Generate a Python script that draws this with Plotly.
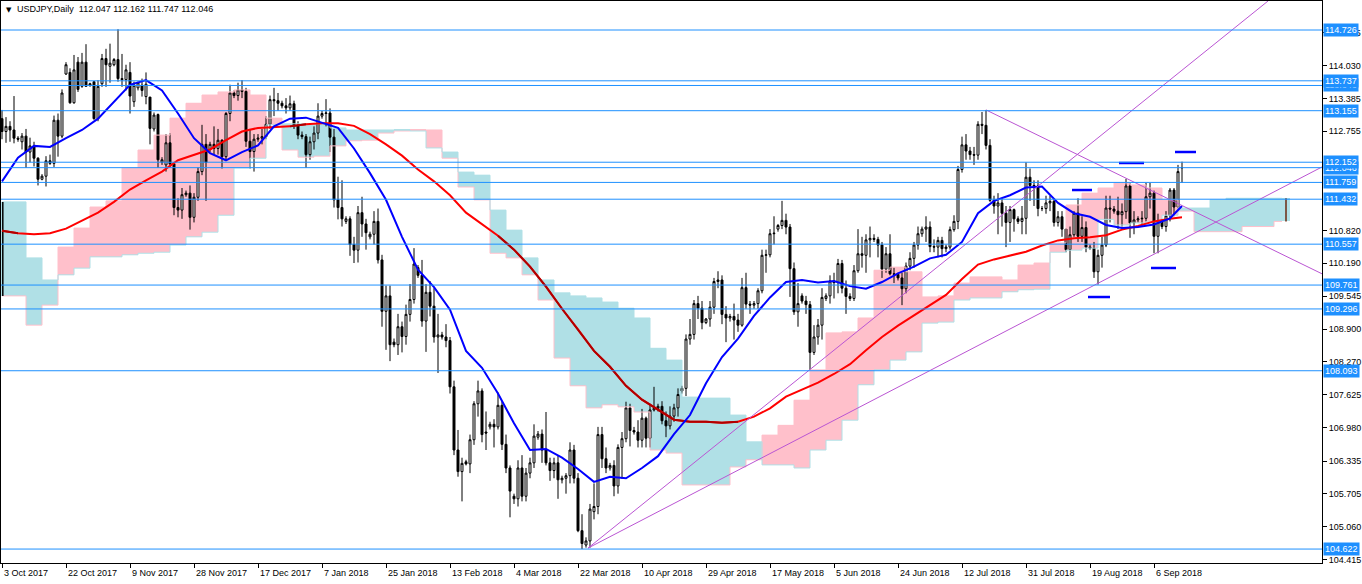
import plotly.graph_objects as go

# ---------------- data ----------------
date_labels = ["3 Oct 2017", "22 Oct 2017", "9 Nov 2017", "28 Nov 2017", "17 Dec 2017",
               "7 Jan 2018", "25 Jan 2018", "13 Feb 2018", "4 Mar 2018", "22 Mar 2018",
               "10 Apr 2018", "29 Apr 2018", "17 May 2018", "5 Jun 2018", "24 Jun 2018",
               "12 Jul 2018", "31 Jul 2018", "19 Aug 2018", "6 Sep 2018"]
label_step = 16  # bars between date labels

opens = [
    113.00, 112.75, 112.85, 112.78, 112.62, 112.55, 112.66, 112.35, 112.47, 112.23,
    111.82, 111.88, 112.18, 112.13, 112.97, 112.66, 113.87, 113.90, 113.31, 114.10,
    113.63, 114.10, 113.65, 113.72, 113.00, 113.68, 114.17, 114.02, 114.05, 114.15,
    113.78, 113.76, 113.90, 113.33, 113.60, 113.65, 113.43, 113.42, 112.80, 113.08,
    112.15, 112.10, 112.53, 112.12, 111.27, 111.22, 111.52, 111.55, 111.08, 111.47,
    111.97, 112.50, 112.40, 112.50, 112.42, 112.58, 112.26, 113.10, 113.50, 113.45,
    113.56, 113.53, 112.56, 112.36, 112.60, 112.62, 112.65, 112.89, 113.37, 113.35,
    113.30, 113.25, 113.21, 113.29, 112.87, 112.68, 112.65, 112.30, 112.55, 112.72,
    113.05, 113.10, 113.11, 112.64, 111.42, 111.27, 111.00, 111.05, 110.55, 110.44,
    111.17, 110.95, 110.70, 110.75, 111.00, 110.25, 109.25, 109.55, 108.65, 108.60,
    108.95, 108.76, 109.19, 109.48, 110.10, 109.95, 109.06, 109.62, 109.35, 108.75,
    108.79, 108.75, 108.68, 107.78, 106.55, 106.13, 106.32, 106.28, 106.75, 107.45,
    107.70, 106.90, 107.00, 107.05, 107.00, 107.42, 106.66, 106.20, 105.65, 105.60,
    106.20, 105.65, 106.10, 106.30, 106.80, 106.86, 106.55, 106.30, 106.15, 106.30,
    105.97, 106.00, 106.05, 106.55, 106.00, 104.98, 104.70, 104.78, 105.35, 105.45,
    106.85, 106.38, 106.20, 106.25, 105.85, 106.60, 106.77, 107.37, 106.93, 106.90,
    106.74, 107.17, 106.78, 107.33, 107.36, 107.40, 107.12, 107.02, 107.21, 107.37,
    107.70, 107.75, 108.71, 108.80, 109.40, 109.31, 109.03, 109.10, 109.33, 109.83,
    109.86, 109.19, 109.12, 109.15, 109.08, 108.98, 109.71, 109.39, 109.37, 109.40,
    109.65, 110.34, 110.35, 110.76, 110.85, 110.92, 111.02, 110.89, 110.08, 109.24,
    109.55, 109.45, 109.38, 108.45, 108.75, 108.98, 109.50, 109.55, 109.84, 109.81,
    110.18, 109.70, 109.54, 109.50, 110.04, 110.37, 110.34, 110.64, 110.67, 110.65,
    110.54, 110.07, 110.37, 109.98, 109.97, 109.90, 109.69, 110.13, 110.28, 110.54,
    110.76, 110.85, 110.89, 110.51, 110.50, 110.63, 110.47, 110.50, 110.84, 111.00,
    112.01, 112.49, 112.37, 112.30, 112.29, 112.89, 112.87, 112.48, 111.41, 111.30,
    111.36, 111.16, 110.98, 111.23, 111.05, 111.00, 111.06, 111.86, 111.70, 111.69,
    111.25, 111.25, 111.36, 111.39, 110.98, 111.09, 110.85, 110.45, 110.74, 111.16,
    110.71, 110.88, 110.50, 110.48, 110.02, 110.34, 110.54, 111.26, 111.24, 111.20,
    111.13, 111.19, 111.69, 110.97, 111.03, 111.05, 111.06, 111.48, 111.55, 110.71,
    110.99, 110.90, 111.11, 111.61, 111.28, 112.047]

highs = [
    113.17, 113.03, 112.95, 113.44, 112.66, 112.72, 112.80, 112.63, 112.55, 112.25,
    111.92, 112.27, 112.30, 113.06, 113.10, 113.57, 114.10, 113.98, 114.24, 114.20,
    114.28, 114.45, 113.70, 113.72, 113.75, 114.26, 114.36, 114.46, 114.18, 114.74,
    114.26, 114.05, 114.10, 113.72, 113.72, 113.78, 113.90, 113.42, 113.12, 113.10,
    112.25, 112.70, 112.72, 112.15, 111.45, 111.65, 111.60, 111.70, 111.55, 112.05,
    112.88, 112.70, 112.55, 112.85, 112.80, 112.60, 113.13, 113.66, 113.55, 113.70,
    113.75, 113.60, 112.80, 112.70, 112.70, 112.80, 113.05, 113.45, 113.60, 113.50,
    113.35, 113.40, 113.45, 113.35, 112.95, 112.75, 112.70, 112.65, 112.85, 113.30,
    113.15, 113.38, 113.20, 112.80, 111.87, 111.80, 111.10, 111.10, 110.70, 111.30,
    111.48, 111.05, 110.80, 111.20, 111.25, 110.35, 109.75, 109.75, 108.72, 109.20,
    109.05, 109.38, 109.78, 110.48, 110.15, 110.25, 109.78, 109.84, 109.70, 109.20,
    108.85, 109.00, 108.75, 107.90, 106.94, 106.40, 106.36, 106.85, 107.50, 107.90,
    107.75, 107.30, 107.10, 107.15, 107.67, 107.50, 106.85, 106.25, 105.70, 106.35,
    106.45, 106.20, 106.40, 107.05, 106.92, 106.95, 107.29, 106.40, 106.40, 106.45,
    106.05, 106.10, 106.70, 106.65, 106.10, 105.30, 104.85, 105.50, 105.90, 107.00,
    107.00, 106.60, 106.30, 106.35, 106.66, 106.90, 107.49, 107.45, 107.00, 107.13,
    107.35, 107.20, 107.45, 107.78, 107.45, 107.50, 107.30, 107.40, 107.45, 107.75,
    107.80, 108.80, 109.10, 109.47, 109.55, 109.45, 109.12, 109.45, 109.90, 110.03,
    109.95, 109.35, 109.20, 109.40, 109.20, 109.90, 110.00, 109.45, 109.45, 109.70,
    110.45, 110.45, 110.85, 111.10, 110.95, 111.40, 111.15, 110.95, 110.20, 109.80,
    109.60, 109.55, 109.45, 108.98, 109.10, 109.70, 109.60, 109.95, 110.00, 110.27,
    110.25, 109.85, 109.60, 110.15, 110.85, 110.70, 110.75, 110.90, 110.75, 110.70,
    110.60, 110.50, 110.75, 110.10, 110.00, 110.00, 110.20, 110.40, 110.60, 110.90,
    110.90, 111.10, 111.00, 110.65, 110.70, 110.70, 110.55, 110.90, 111.12, 112.08,
    112.65, 112.70, 112.45, 112.45, 112.95, 113.13, 113.17, 112.60, 111.50, 111.55,
    111.45, 111.30, 111.30, 111.25, 111.10, 111.30, 112.15, 112.03, 111.80, 111.80,
    111.30, 111.50, 111.50, 111.45, 111.20, 111.20, 110.85, 110.90, 111.20, 111.45,
    111.10, 111.00, 110.55, 110.60, 110.45, 110.70, 111.50, 111.50, 111.30, 111.48,
    111.35, 111.83, 111.75, 111.20, 111.10, 111.20, 111.75, 111.75, 111.60, 111.15,
    111.05, 111.20, 111.65, 111.65, 112.10, 112.162]

lows = [
    112.60, 112.53, 112.55, 112.52, 112.55, 112.40, 112.04, 112.15, 112.07, 111.70,
    111.80, 111.68, 112.10, 112.06, 112.26, 112.62, 113.85, 113.29, 113.29, 113.52,
    113.60, 113.63, 113.62, 112.98, 112.95, 113.62, 113.62, 113.70, 114.02, 113.72,
    113.62, 113.55, 113.10, 113.23, 113.55, 113.43, 113.28, 112.50, 112.75, 112.04,
    112.10, 111.97, 112.05, 111.12, 111.08, 111.05, 111.48, 110.84, 110.98, 111.40,
    111.90, 111.40, 112.35, 112.30, 112.30, 112.03, 112.20, 112.95, 113.40, 113.35,
    113.40, 112.45, 112.03, 111.97, 112.55, 112.50, 112.60, 112.80, 113.05, 113.15,
    113.20, 113.10, 113.15, 112.80, 112.60, 112.60, 112.04, 112.20, 112.40, 112.60,
    113.00, 112.85, 112.35, 111.27, 111.04, 110.90, 110.95, 110.33, 110.19, 110.20,
    110.70, 110.45, 110.65, 110.55, 110.18, 108.95, 108.50, 108.28, 108.55, 108.40,
    108.45, 108.60, 109.05, 109.40, 109.90, 108.95, 108.46, 109.15, 108.64, 108.05,
    108.70, 108.55, 107.65, 106.45, 106.03, 105.55, 106.25, 106.10, 106.65, 107.20,
    106.70, 106.55, 106.95, 106.60, 106.95, 106.55, 106.10, 105.24, 105.50, 105.45,
    105.55, 105.55, 106.00, 106.20, 106.75, 106.30, 106.25, 105.95, 106.00, 105.60,
    105.90, 105.70, 105.90, 105.90, 104.95, 104.622, 104.65, 104.65, 105.20, 105.30,
    106.20, 106.10, 106.15, 105.65, 105.70, 105.99, 106.70, 106.62, 106.85, 106.60,
    106.60, 106.60, 106.60, 107.30, 107.30, 107.05, 106.80, 106.95, 107.10, 107.20,
    107.65, 107.60, 108.60, 108.70, 109.10, 108.90, 109.00, 108.95, 109.20, 109.70,
    109.00, 108.65, 109.05, 108.70, 108.85, 108.95, 109.30, 109.20, 109.30, 109.30,
    109.60, 110.00, 110.30, 110.55, 110.80, 110.85, 110.75, 109.53, 109.18, 108.95,
    109.40, 109.20, 108.11, 108.40, 108.60, 108.70, 109.45, 109.40, 109.50, 109.60,
    109.60, 109.20, 109.45, 109.45, 110.00, 110.10, 110.00, 110.30, 110.60, 110.30,
    109.90, 110.00, 109.95, 109.80, 109.85, 109.37, 109.60, 110.05, 110.10, 110.45,
    110.70, 110.60, 110.40, 110.40, 110.30, 110.30, 110.40, 110.45, 110.80, 110.85,
    111.95, 112.20, 112.20, 112.10, 112.20, 112.70, 112.40, 111.38, 111.15, 110.75,
    110.90, 110.50, 110.60, 110.80, 110.95, 110.75, 110.75, 111.40, 111.30, 111.10,
    111.20, 111.15, 111.20, 110.90, 110.90, 110.70, 110.40, 110.10, 110.70, 110.60,
    110.60, 110.40, 110.45, 109.90, 109.77, 110.10, 110.50, 110.98, 111.15, 110.85,
    110.90, 111.05, 110.68, 110.75, 110.98, 110.90, 111.00, 111.25, 110.38, 110.38,
    110.85, 110.80, 111.00, 111.10, 111.25, 111.747]

closes = [
    112.75, 112.85, 112.78, 112.62, 112.60, 112.66, 112.35, 112.47, 112.23, 111.82,
    111.88, 112.18, 112.13, 112.97, 112.66, 113.50, 114.05, 113.31, 113.95, 113.57,
    114.10, 113.63, 113.68, 113.00, 113.63, 114.17, 114.05, 114.08, 114.15, 113.78,
    113.76, 113.95, 113.44, 113.65, 113.70, 113.55, 113.67, 112.81, 113.07, 112.20,
    112.20, 112.53, 112.12, 111.27, 111.22, 111.52, 111.55, 111.08, 111.47, 111.97,
    112.50, 112.15, 112.50, 112.42, 112.58, 112.26, 113.10, 113.50, 113.45, 113.56,
    113.53, 112.56, 112.36, 112.60, 112.62, 112.65, 112.89, 113.37, 113.35, 113.30,
    113.25, 113.21, 113.29, 112.87, 112.68, 112.65, 112.30, 112.55, 112.72, 113.05,
    113.10, 113.11, 112.64, 111.42, 111.27, 111.05, 111.05, 110.55, 110.44, 111.17,
    110.95, 110.78, 110.75, 111.00, 110.25, 109.25, 109.55, 108.60, 108.60, 108.95,
    108.76, 109.19, 109.48, 110.17, 109.95, 109.06, 109.62, 109.35, 108.75, 108.79,
    108.75, 108.68, 107.78, 106.55, 106.13, 106.29, 106.28, 106.75, 107.45, 107.70,
    106.85, 106.88, 107.05, 107.00, 107.42, 106.66, 106.20, 105.75, 105.60, 106.20,
    105.65, 106.10, 106.30, 106.82, 106.86, 106.55, 106.30, 106.15, 106.30, 105.97,
    106.00, 106.05, 106.55, 106.00, 104.98, 104.73, 104.78, 105.40, 105.45, 106.85,
    106.38, 106.20, 106.25, 105.85, 106.60, 106.77, 107.37, 106.93, 106.90, 106.74,
    107.17, 106.78, 107.33, 107.36, 107.40, 107.12, 107.02, 107.21, 107.37, 107.63,
    107.75, 108.71, 108.80, 109.40, 109.31, 109.03, 109.10, 109.33, 109.83, 109.86,
    109.19, 109.12, 109.15, 109.08, 108.98, 109.71, 109.39, 109.37, 109.40, 109.65,
    110.34, 110.35, 110.76, 110.77, 110.92, 111.02, 110.89, 110.08, 109.24, 109.40,
    109.45, 109.38, 108.45, 108.75, 108.98, 109.52, 109.55, 109.84, 109.81, 110.18,
    109.70, 109.54, 109.50, 110.04, 110.37, 110.34, 110.64, 110.67, 110.65, 110.54,
    110.07, 110.37, 109.98, 109.97, 109.90, 109.69, 110.13, 110.28, 110.54, 110.76,
    110.85, 110.89, 110.51, 110.50, 110.63, 110.47, 110.50, 110.84, 111.00, 112.01,
    112.49, 112.37, 112.30, 112.29, 112.89, 112.87, 112.48, 111.41, 111.30, 111.36,
    111.16, 110.98, 111.23, 111.05, 111.00, 111.06, 111.86, 111.70, 111.69, 111.25,
    111.25, 111.36, 111.39, 110.98, 111.09, 110.85, 110.45, 110.74, 111.16, 110.71,
    110.88, 110.50, 110.48, 110.02, 110.34, 110.54, 111.26, 111.24, 111.20, 111.13,
    111.19, 111.69, 110.97, 111.03, 111.05, 111.06, 111.48, 111.55, 110.71, 110.99,
    110.90, 111.11, 111.61, 111.28, 111.97, 112.046]

# moving averages read every 4 bars (+ last bar)
ma_idx = list(range(0, 293, 4)) + [295]
blue_ma = [
    111.78, 112.24, 112.47, 112.45, 112.62, 112.78, 113.00, 113.32, 113.66, 113.75,
    113.55, 113.10, 112.62, 112.33, 112.19, 112.35, 112.48, 112.85, 113.00, 113.02,
    112.92, 112.82, 112.42, 111.94, 111.42, 110.70, 110.06, 109.72, 109.28, 108.48,
    108.15, 107.65, 107.07, 106.55, 106.57, 106.40, 106.18, 105.93, 106.03, 106.00,
    106.20, 106.43, 106.86, 107.23, 107.85, 108.36, 108.72, 109.16, 109.52, 109.82,
    109.86, 109.81, 109.84, 109.74, 109.69, 109.82, 109.99, 110.12, 110.28, 110.35,
    110.60, 111.16, 111.40, 111.51, 111.66, 111.68, 111.36, 111.16, 111.09, 110.93,
    110.87, 110.89, 110.94, 111.06, 111.30]
red_ma = [
    110.82, 110.77, 110.75, 110.77, 110.86, 111.01, 111.17, 111.38, 111.62, 111.80,
    111.97, 112.19, 112.30, 112.40, 112.58, 112.75, 112.82, 112.83, 112.85, 112.89,
    112.91, 112.91, 112.86, 112.70, 112.50, 112.28, 112.01, 111.78, 111.51, 111.17,
    110.95, 110.72, 110.45, 110.12, 109.73, 109.30, 108.90, 108.48, 108.17, 107.80,
    107.53, 107.33, 107.14, 107.10, 107.10, 107.08, 107.10, 107.20, 107.36, 107.59,
    107.72, 107.86, 108.03, 108.22, 108.49, 108.75, 108.97, 109.17, 109.38, 109.57,
    109.88, 110.16, 110.26, 110.34, 110.41, 110.53, 110.63, 110.67, 110.69, 110.73,
    110.84, 110.91, 111.00, 111.05, 111.08]

# Ichimoku cloud spans read every 4 bars (shifted 26 bars ahead)
cloud_idx = list(range(0, 321, 4))
span_a = [
    109.55, 109.55, 108.98, 109.37, 110.50, 110.87, 111.28, 111.40, 112.04, 112.39,
    112.68, 113.01, 113.30, 113.46, 113.52, 113.56, 113.46, 113.01, 112.39, 112.25,
    112.27, 112.47, 112.57, 112.58, 112.72, 112.76, 112.78, 112.78, 112.23, 111.67,
    111.42, 110.38, 110.29, 109.96, 109.47, 108.34, 107.80, 107.37, 107.43, 107.39,
    107.29, 106.55, 106.49, 105.87, 105.87, 105.87, 106.22, 106.36, 106.84, 107.03,
    107.52, 108.11, 108.83, 108.85, 109.12, 110.05, 110.11, 110.02, 109.53, 109.55,
    109.80, 109.92, 109.92, 109.86, 110.15, 110.19, 110.58, 111.32, 111.55, 111.65,
    111.75, 111.71, 111.65, 111.42, 111.20, 110.80, 110.80, 110.80, 110.90, 110.90,
    111.00]
span_b = [
    111.38, 111.38, 110.29, 109.86, 109.96, 110.09, 110.31, 110.31, 110.35, 110.38,
    110.40, 110.54, 110.70, 110.79, 111.12, 112.04, 112.23, 112.88, 112.90, 112.90,
    112.90, 112.82, 112.78, 112.78, 112.78, 112.78, 112.76, 112.43, 112.35, 111.96,
    111.90, 111.22, 110.83, 110.29, 109.86, 109.61, 109.55, 109.51, 109.43, 109.31,
    109.12, 108.53, 108.30, 107.58, 107.56, 107.56, 107.23, 106.71, 106.26, 106.26,
    106.20, 106.55, 106.74, 107.13, 107.82, 108.11, 108.30, 108.46, 109.02, 109.04,
    109.47, 109.51, 109.51, 109.63, 109.67, 109.68, 110.40, 110.44, 110.48, 111.04,
    110.93, 110.97, 110.99, 111.12, 111.26, 111.26, 111.42, 111.45, 111.45, 111.45,
    111.45]
cloud_last_bar = 321   # cloud ends 26 bars after the last candle

# horizontal levels and their axis labels
level_prices = [113.646, 112.046, 114.726, 113.737, 113.155, 112.152, 111.759,
                111.432, 110.557, 109.761, 109.296, 108.093, 104.622]
grid_ticks = [114.675, 114.030, 113.385, 112.755, 110.820, 110.190, 109.545, 108.900,
              108.270, 107.625, 106.980, 106.335, 105.705, 105.060, 104.415]

# short horizontal marks (price, first bar, last bar)
mark_prices = [112.351, 112.137, 111.611, 110.093, 109.528]
mark_start = [293.25, 279.25, 267.5, 287.25, 271.5]
mark_end = [298.5, 285.5, 272.5, 293.5, 277.0]

# trend lines: (bar, price) pairs
trend_x0 = [146.5, 146.5, 246.0]
trend_y0 = [104.64, 104.64, 113.17]
trend_x1 = [316.5, 330.0, 330.0]
trend_y1 = [115.29, 112.06, 109.98]

title_text = "USDJPY,Daily\u00a0\u00a0112.047 112.162 111.747 112.046"

# ---------------- figure ----------------
FONT = "Liberation Sans"
PINK = "#FFC0CB"
LBLUE = "#B0E0E6"
LEVEL_BLUE = "#1E90FF"

n = len(closes)
bars = list(range(n))
fig = go.Figure()

# cloud as histogram blocks
c_base = [min(a, b) for a, b in zip(span_a, span_b)]
c_h = [abs(a - b) for a, b in zip(span_a, span_b)]
c_col = [PINK if a >= b else LBLUE for a, b in zip(span_a, span_b)]
fig.add_trace(go.Bar(x=cloud_idx, y=c_h, base=c_base, width=4,
                     marker=dict(color=c_col, line=dict(width=0)),
                     hoverinfo="skip", showlegend=False))
fig.add_trace(go.Scatter(x=cloud_idx, y=span_a, mode="lines", line_shape="hvh",
                         line=dict(color=PINK, width=1), hoverinfo="skip"))
fig.add_trace(go.Scatter(x=cloud_idx, y=span_b, mode="lines", line_shape="hvh",
                         line=dict(color=LBLUE, width=1), hoverinfo="skip"))
# dark edge strokes at both ends of the cloud
fig.add_trace(go.Scatter(x=[0.2, 0.2], y=[span_a[0], span_b[0]], mode="lines",
                         line=dict(color="black", width=1.5), hoverinfo="skip"))
fig.add_trace(go.Scatter(x=[cloud_last_bar, cloud_last_bar], y=[span_a[-1], span_b[-1]],
                         mode="lines", line=dict(color="#6B2A10", width=1.5),
                         hoverinfo="skip"))

# candles
h_fix = [max(h, o, c) for h, o, c in zip(highs, opens, closes)]
l_fix = [min(l, o, c) for l, o, c in zip(lows, opens, closes)]
fig.add_trace(go.Candlestick(
    x=bars, open=opens, high=h_fix, low=l_fix, close=closes,
    increasing=dict(line=dict(color="black", width=1), fillcolor="white"),
    decreasing=dict(line=dict(color="black", width=1), fillcolor="black"),
    whiskerwidth=0, hoverinfo="skip", showlegend=False))

# moving averages
fig.add_trace(go.Scatter(x=ma_idx, y=red_ma, mode="lines",
                         line=dict(color="#FF0000", width=2), hoverinfo="skip"))
# darker red where the red line runs inside the light-blue cloud
dark = []
for i, v in zip(ma_idx, red_ma):
    k = i // 4
    if i % 4 == 0 and k < len(span_a) and span_b[k] > span_a[k] and span_a[k] <= v <= span_b[k]:
        dark.append(v)
    else:
        dark.append(None)
fig.add_trace(go.Scatter(x=ma_idx, y=dark, mode="lines", connectgaps=False,
                         line=dict(color="#B00000", width=2), hoverinfo="skip"))
fig.add_trace(go.Scatter(x=ma_idx, y=blue_ma, mode="lines",
                         line=dict(color="#0000FF", width=2), hoverinfo="skip"))

# trend lines
for x0, y0, x1, y1 in zip(trend_x0, trend_y0, trend_x1, trend_y1):
    fig.add_trace(go.Scatter(x=[x0, x1], y=[y0, y1], mode="lines",
                             line=dict(color="#BA55D3", width=1), hoverinfo="skip"))

# short marks
for p, s, e in zip(mark_prices, mark_start, mark_end):
    fig.add_trace(go.Scatter(x=[s, e], y=[p, p], mode="lines",
                             line=dict(color="#0000FF", width=2.5), hoverinfo="skip"))

shapes = []
annotations = []
for p in level_prices:
    shapes.append(dict(type="line", xref="paper", x0=0, x1=1, yref="y", y0=p, y1=p,
                       line=dict(color=LEVEL_BLUE, width=1), layer="above"))
    annotations.append(dict(xref="paper", x=1, xanchor="left", xshift=1,
                            yref="y", y=p, yanchor="middle",
                            text=f"{p:.3f}", showarrow=False,
                            bgcolor=LEVEL_BLUE, borderpad=1,
                            font=dict(family=FONT, size=9, color="white")))

for k, lab in enumerate(date_labels):
    annotations.append(dict(xref="x", x=k * label_step, xanchor="left", xshift=0,
                            yref="paper", y=0, yanchor="top", yshift=-3,
                            text=lab, showarrow=False,
                            font=dict(family=FONT, size=9, color="black")))

annotations.append(dict(xref="paper", x=0, xanchor="left", xshift=3,
                        yref="paper", y=1, yanchor="top", yshift=-3,
                        text="\u25BC", showarrow=False,
                        font=dict(family="DejaVu Sans", size=7, color="black")))
annotations.append(dict(xref="paper", x=0, xanchor="left", xshift=14,
                        yref="paper", y=1, yanchor="top", yshift=-1,
                        text=title_text, showarrow=False,
                        font=dict(family=FONT, size=9, color="black")))

fig.update_layout(
    width=1362, height=584,
    margin=dict(l=1, r=40, t=1, b=21, pad=0),
    paper_bgcolor="white", plot_bgcolor="white",
    showlegend=False, hovermode=False,
    font=dict(family=FONT, size=9, color="black"),
    shapes=shapes, annotations=annotations,
    bargap=0,
    xaxis=dict(range=[-0.25, 330], showgrid=False, zeroline=False,
               showline=True, linecolor="black", linewidth=1, mirror=True,
               ticks="outside", ticklen=4, tickcolor="black",
               tickvals=[k * label_step for k in range(len(date_labels))],
               showticklabels=False, rangeslider=dict(visible=False),
               automargin=False, fixedrange=True),
    yaxis=dict(range=[104.3504, 115.2905], side="right", showgrid=False, zeroline=False,
               showline=True, linecolor="black", linewidth=1, mirror=True,
               ticks="outside", ticklen=4, tickcolor="black",
               tickvals=grid_ticks, ticktext=[f"{t:.3f}" for t in grid_ticks],
               tickfont=dict(family=FONT, size=9, color="black"),
               automargin=False, fixedrange=True),
)

fig.write_html("out.html", config={"displayModeBar": False},
               post_script="document.body.style.margin='0';document.body.style.padding='0';"
                           "document.body.style.overflow='hidden';")
